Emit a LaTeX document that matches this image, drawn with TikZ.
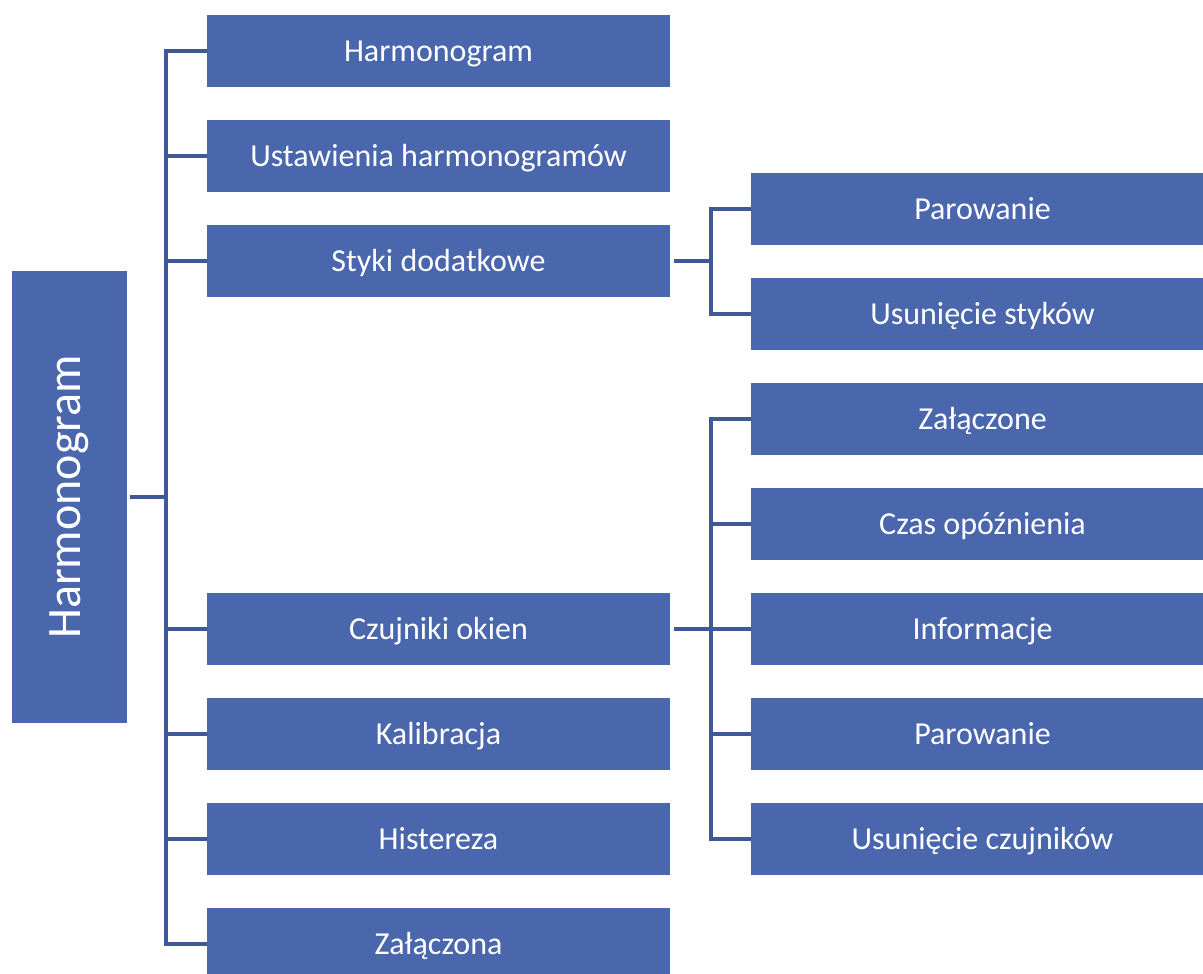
\documentclass[tikz,border=0pt]{standalone}
\usepackage{fontspec}
\setmainfont{Carlito}
\usepackage{graphicx}
\usepackage{tikz}
\definecolor{boxblue}{RGB}{74,103,174}
\definecolor{linkblue}{RGB}{63,88,150}

\tikzset{
  box/.style={fill=boxblue, text=white, inner sep=0pt,
    minimum height=54pt, text height=18pt, text depth=2.5pt,
    minimum width=347.25pt, font=\fontsize{24}{28}\selectfont},
  rootbox/.style={fill=boxblue, text=white, inner sep=0pt,
    minimum width=86.25pt, minimum height=339pt,
    font=\fontsize{36}{40}\selectfont},
  link/.style={draw=linkblue, line width=2.3pt}
}

\begin{document}
\begin{tikzpicture}[x=0.75pt,y=-0.75pt]
    \useasboundingbox (0,0) rectangle (1203,974);

    \node[rootbox] (root) at (69.5,497) {\rotatebox{90}{Harmonogram}};

    \node[box] (harm) at (438.5,51) {Harmonogram};
    \node[box] (ustaw) at (438.5,156) {Ustawienia harmonogramów};
    \node[box] (styki) at (438.5,261) {Styki dodatkowe};
    \node[box] (czuj) at (438.5,629) {Czujniki okien};
    \node[box] (kalib) at (438.5,734) {Kalibracja};
    \node[box] (hist) at (438.5,839) {Histereza};
    \node[box] (zalna) at (438.5,944) {Załączona};

    \node[box] (sparow) at (982.5,209) {Parowanie};
    \node[box] (susun) at (982.5,314) {Usunięcie styków};

    \node[box] (czal) at (982.5,419) {Załączone};
    \node[box] (cczas) at (982.5,524) {Czas opóźnienia};
    \node[box] (cinfo) at (982.5,629) {Informacje};
    \node[box] (cparow) at (982.5,734) {Parowanie};
    \node[box] (cusun) at (982.5,839) {Usunięcie czujników};

    % connectors
    \coordinate (rootbus) at (166,497);
    \coordinate (stykibus) at (711,261);
    \coordinate (czujbus) at (711,629);

    \draw[link] ([xshift=2pt]root.east) -- (rootbus);
    \foreach \n in {harm,ustaw,styki,czuj,kalib,hist,zalna}
      \draw[link] (rootbus) |- (\n.west);

    \draw[link] ([xshift=3pt]styki.east) -- (stykibus);
    \foreach \n in {sparow,susun}
      \draw[link] (stykibus) |- (\n.west);

    \draw[link] ([xshift=3pt]czuj.east) -- (czujbus);
    \foreach \n in {czal,cczas,cinfo,cparow,cusun}
      \draw[link] (czujbus) |- (\n.west);
\end{tikzpicture}
\end{document}
